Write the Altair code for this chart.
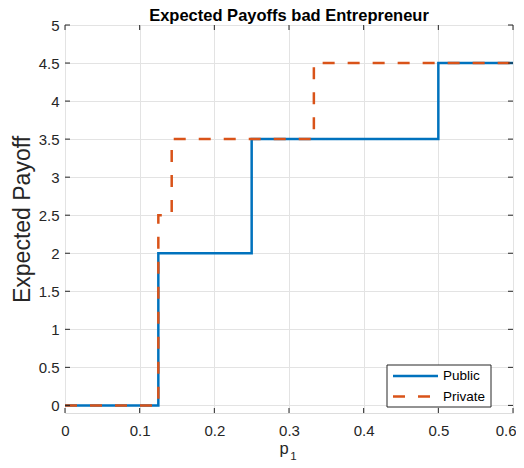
import altair as alt
import pandas as pd

# Data
public_x = [0.0, 0.125, 0.25, 0.5, 0.6]
public_y = [0.0, 2.0, 3.5, 4.5, 4.5]
private_x = [0.0, 0.125, 0.1429, 0.3333, 0.6]
private_y = [0.0, 2.5, 3.5, 4.5, 4.5]
x_ticks = [0, 0.1, 0.2, 0.3, 0.4, 0.5, 0.6]
y_ticks = [0, 0.5, 1, 1.5, 2, 2.5, 3, 3.5, 4, 4.5, 5]
series_names = ["Public", "Private"]
series_colors = ["#0072BD", "#D95319"]
series_dash = [[1, 0], [12, 13]]
title_text = "Expected Payoffs bad Entrepreneur"
y_title = "Expected Payoff"
x_title_main, x_title_sub = "p", "1"

W, H = 448, 388
FONT = "Liberation Sans"
AX = "#262626"

df = pd.concat([
    pd.DataFrame({"x": public_x, "y": public_y, "s": series_names[0], "o": 0}),
    pd.DataFrame({"x": private_x, "y": private_y, "s": series_names[1], "o": 1}),
])

xs = alt.Scale(domain=[0, 0.6], nice=False, zero=False)
ys = alt.Scale(domain=[-0.1, 5], nice=False, zero=False)

xaxis = alt.Axis(values=x_ticks, format="~g", grid=True, gridColor="#e3e3e3", tickSize=0,
                 domain=False, labelFont=FONT, labelFontSize=15, labelColor=AX, labelPadding=10,
                 labelOverlap=False, labelFlush=False,
                 labelAlign={"expr": "datum.value >= 0.6 ? 'right' : 'center'"},
                 labelOffset={"expr": "datum.value >= 0.6 ? 3 : 0"},
                 title=None)
yaxis = alt.Axis(values=y_ticks, format="~g", grid=True, gridColor="#e3e3e3", tickSize=0,
                 domain=False, labelFont=FONT, labelFontSize=15, labelColor=AX, labelPadding=6,
                 labelOverlap=False, labelFlush=False,
                 title=y_title, titleFont=FONT, titleFontSize=23, titleFontWeight="normal",
                 titleColor=AX, titlePadding=4)

lines = alt.Chart(df).mark_line(interpolate="step-after", strokeWidth=2.5, clip=True).encode(
    x=alt.X("x:Q", scale=xs, axis=xaxis),
    y=alt.Y("y:Q", scale=ys, axis=yaxis),
    color=alt.Color("s:N", scale=alt.Scale(domain=series_names, range=series_colors), legend=None),
    strokeDash=alt.StrokeDash("s:N", scale=alt.Scale(domain=series_names, range=series_dash),
                              legend=None),
    order="o:Q",
)

xt = pd.DataFrame({"v": x_ticks})
yt = pd.DataFrame({"v": y_ticks})
tick_style = dict(color=AX, strokeWidth=1)
bt = alt.Chart(xt).mark_rule(**tick_style).encode(x=alt.X("v:Q", scale=xs, axis=xaxis), y=alt.value(H), y2=alt.value(H - 5))
tt = alt.Chart(xt).mark_rule(**tick_style).encode(x=alt.X("v:Q", scale=xs, axis=xaxis), y=alt.value(0), y2=alt.value(5))
lt = alt.Chart(yt).mark_rule(**tick_style).encode(y=alt.Y("v:Q", scale=ys, axis=yaxis), x=alt.value(0), x2=alt.value(5))
rt = alt.Chart(yt).mark_rule(**tick_style).encode(y=alt.Y("v:Q", scale=ys, axis=yaxis), x=alt.value(W), x2=alt.value(W - 5))

# Title
title = alt.Chart(pd.DataFrame({"t": [title_text]})).mark_text(
    font=FONT, fontSize=16.5, fontWeight="bold", color="black", baseline="alphabetic", align="center"
).encode(text="t:N", x=alt.value(W / 2), y=alt.value(-4.5))

# x-axis title p with subscript 1
xt_main = alt.Chart(pd.DataFrame({"t": [x_title_main]})).mark_text(
    font=FONT, fontSize=16.5, color=AX, baseline="alphabetic", align="center"
).encode(text="t:N", x=alt.value(W / 2 - 5), y=alt.value(H + 41))
xt_sub = alt.Chart(pd.DataFrame({"t": [x_title_sub]})).mark_text(
    font=FONT, fontSize=11.5, color=AX, baseline="alphabetic", align="center"
).encode(text="t:N", x=alt.value(W / 2 + 4.5), y=alt.value(H + 46.5))

# Legend (box + entries)
LX, LY, LW, LH = 322, 340, 104, 42
leg_box = alt.Chart(pd.DataFrame({"a": [0]})).mark_rect(
    fill="white", stroke=AX, strokeWidth=1
).encode(x=alt.value(LX), x2=alt.value(LX + LW), y=alt.value(LY), y2=alt.value(LY + LH))
leg_layers = [leg_box]
for i, (nm, col, dash) in enumerate(zip(series_names, series_colors, series_dash)):
    yy = LY + 11 + i * 20.5
    leg_layers.append(
        alt.Chart(pd.DataFrame({"a": [0]})).mark_rule(color=col, strokeWidth=2.5, strokeDash=dash).encode(
            x=alt.value(LX + 6), x2=alt.value(LX + 51), y=alt.value(yy))
    )
    leg_layers.append(
        alt.Chart(pd.DataFrame({"t": [nm]})).mark_text(
            font=FONT, fontSize=13.5, color="black", align="left", baseline="middle"
        ).encode(text="t:N", x=alt.value(LX + 56), y=alt.value(yy))
    )

chart = alt.layer(lines, bt, tt, lt, rt, title, xt_main, xt_sub, *leg_layers).properties(
    width=W, height=H,
    autosize=alt.AutoSizeParams(type="none"),
    padding={"left": 57, "top": 17, "right": 3, "bottom": 47},
).configure_view(stroke=AX, strokeWidth=1).configure(background="white")

chart.save("out.html", embed_options={"renderer": "svg", "actions": False})
